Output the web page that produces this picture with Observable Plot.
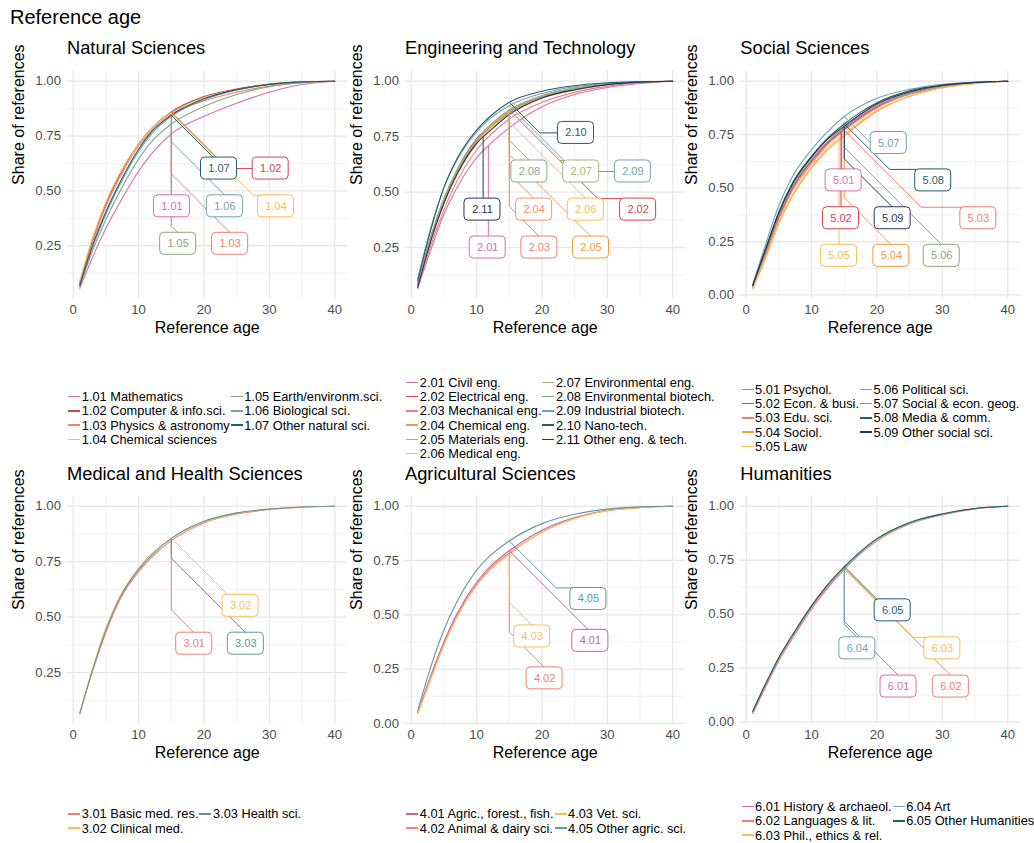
<!DOCTYPE html>
<html><head><meta charset="utf-8">
<script src="https://cdn.jsdelivr.net/npm/d3@7"></script>
<script src="https://cdn.jsdelivr.net/npm/@observablehq/plot@0.6"></script>
<style>
body{margin:0;background:#fff;font-family:"Liberation Sans",Arial,Helvetica,sans-serif;}
#root{position:relative;width:1034px;height:843px;overflow:hidden;background:#fff;}
.title{position:absolute;left:10px;top:6px;font-size:20px;color:#000;white-space:nowrap;}
.ptitle{position:absolute;font-size:18.3px;color:#000;white-space:nowrap;line-height:20px;}
.panel{position:absolute;}
.legend{position:absolute;display:grid;grid-auto-flow:column;grid-auto-columns:max-content;column-gap:1px;font-size:12.8px;color:#000;}
.item{white-space:nowrap;display:flex;align-items:center;height:14.2px;}
.sw{display:inline-block;width:12px;height:1.4px;margin-right:1.5px;}
</style></head><body><div id="root"></div>
<script>
const ages = [1,3,5,7,10,12,15,20,25,30,35,40];

// ---- Natural Sciences ----
const natTitle = "Natural Sciences";
const natCodes = ["1.01","1.02","1.03","1.04","1.05","1.06","1.07"];
const natNames = ["Mathematics","Computer & info.sci.","Physics & astronomy","Chemical sciences","Earth/environm.sci.","Biological sci.","Other natural sci."];
const natColors = ["#D36FB2","#D6424F","#EE7F75","#F9BE52","#8DA577","#6FA3AB","#1F5E6C"];
const natValues = [
  [0.055,0.20,0.33,0.44,0.59,0.67,0.76,0.84,0.90,0.95,0.985,1],
  [0.08,0.28,0.44,0.565,0.715,0.785,0.86,0.93,0.965,0.987,0.997,1],
  [0.075,0.27,0.43,0.555,0.705,0.775,0.85,0.91,0.95,0.978,0.994,1],
  [0.09,0.29,0.45,0.575,0.715,0.785,0.855,0.925,0.96,0.985,0.996,1],
  [0.065,0.23,0.37,0.49,0.645,0.725,0.805,0.885,0.94,0.975,0.993,1],
  [0.065,0.245,0.395,0.52,0.68,0.76,0.84,0.915,0.96,0.985,0.997,1],
  [0.07,0.255,0.405,0.53,0.69,0.77,0.845,0.92,0.962,0.986,0.997,1]
];
const natLabelX = [15.1,30.2,24.0,31.0,16.05,23.2,22.3];
const natLabelY = [0.43,0.602,0.259,0.43,0.259,0.43,0.602];
const natAnchor = [15,15,15,15,15,15,15];

// ---- Engineering and Technology ----
const engTitle = "Engineering and Technology";
const engCodes = ["2.01","2.02","2.03","2.04","2.05","2.06","2.07","2.08","2.09","2.10","2.11"];
const engNames = ["Civil eng.","Electrical eng.","Mechanical eng.","Chemical eng.","Materials eng.","Medical eng.","Environmental eng.","Environmental biotech.","Industrial biotech.","Nano-tech.","Other eng. & tech."];
const engColors = ["#D36FB2","#D6424F","#EE7F75","#F2936A","#F59A3E","#F9BE52","#A9B27A","#8AAB92","#6FA3AB","#1F5E6C","#27355F"];
const engValues = [
  [0.065,0.24,0.40,0.52,0.655,0.715,0.79,0.885,0.94,0.972,0.99,1],
  [0.085,0.30,0.47,0.60,0.74,0.80,0.87,0.935,0.967,0.987,0.997,1],
  [0.07,0.26,0.42,0.55,0.69,0.755,0.83,0.905,0.95,0.978,0.994,1],
  [0.075,0.28,0.45,0.58,0.72,0.785,0.855,0.925,0.96,0.985,0.996,1],
  [0.08,0.29,0.46,0.59,0.73,0.795,0.865,0.93,0.965,0.986,0.996,1],
  [0.075,0.28,0.45,0.58,0.72,0.785,0.86,0.93,0.965,0.986,0.996,1],
  [0.08,0.29,0.47,0.60,0.735,0.80,0.87,0.935,0.97,0.988,0.997,1],
  [0.08,0.29,0.46,0.59,0.73,0.79,0.86,0.93,0.965,0.987,0.997,1],
  [0.11,0.34,0.52,0.645,0.77,0.83,0.89,0.945,0.975,0.99,0.997,1],
  [0.10,0.33,0.52,0.65,0.78,0.84,0.905,0.955,0.98,0.993,0.998,1],
  [0.07,0.28,0.45,0.58,0.72,0.775,0.85,0.925,0.962,0.985,0.996,1]
];
const engLabelX = [11.7,34.7,19.6,18.8,27.5,26.7,26.0,18.07,33.9,25.2,10.9];
const engLabelY = [0.25,0.421,0.25,0.421,0.25,0.421,0.593,0.593,0.593,0.767,0.421];
const engAnchor = [11.8,15,15,15,15,15,15,15,15,15,11];

// ---- Social Sciences ----
const socTitle = "Social Sciences";
const socCodes = ["5.01","5.02","5.03","5.04","5.05","5.06","5.07","5.08","5.09"];
const socNames = ["Psychol.","Econ. & busi.","Edu. sci.","Sociol.","Law","Political sci.","Social & econ. geog.","Media & comm.","Other social sci."];
const socColors = ["#D36FB2","#D6424F","#EE7F75","#F59A3E","#F9BE52","#8DA577","#6FA3AB","#1F5E6C","#27355F"];
const socValues = [
  [0.04,0.205,0.37,0.50,0.63,0.70,0.78,0.885,0.945,0.977,0.993,1],
  [0.04,0.20,0.365,0.495,0.625,0.695,0.775,0.88,0.94,0.975,0.992,1],
  [0.035,0.19,0.355,0.485,0.615,0.69,0.77,0.875,0.94,0.975,0.992,1],
  [0.03,0.175,0.335,0.46,0.595,0.665,0.745,0.86,0.93,0.97,0.99,1],
  [0.035,0.18,0.34,0.465,0.60,0.675,0.755,0.865,0.93,0.97,0.99,1],
  [0.04,0.21,0.375,0.505,0.635,0.705,0.785,0.89,0.945,0.978,0.993,1],
  [0.05,0.24,0.42,0.55,0.68,0.75,0.835,0.92,0.962,0.986,0.996,1],
  [0.045,0.22,0.39,0.52,0.65,0.72,0.80,0.90,0.955,0.982,0.995,1],
  [0.045,0.215,0.385,0.515,0.645,0.715,0.79,0.895,0.95,0.98,0.994,1]
];
const socLabelX = [14.9,14.5,35.5,22.2,14.2,29.9,21.8,28.6,22.4];
const socLabelY = [0.536,0.359,0.359,0.183,0.183,0.183,0.711,0.536,0.359];
const socAnchor = [14.6,14.5,15,15,14.2,15,15,15,15];

// ---- Medical and Health Sciences ----
const medTitle = "Medical and Health Sciences";
const medCodes = ["3.01","3.02","3.03"];
const medNames = ["Basic med. res.","Clinical med.","Health sci."];
const medColors = ["#EE7F75","#F9BE52","#5E9A93"];
const medValues = [
  [0.065,0.26,0.43,0.57,0.705,0.77,0.845,0.925,0.965,0.985,0.996,1],
  [0.065,0.27,0.45,0.585,0.72,0.785,0.855,0.93,0.968,0.987,0.997,1],
  [0.065,0.265,0.44,0.58,0.715,0.78,0.855,0.932,0.97,0.988,0.997,1]
];
const medLabelX = [18.5,25.6,26.4];
const medLabelY = [0.38,0.551,0.38];
const medAnchor = [15,15,15];

// ---- Agricultural Sciences ----
const agrTitle = "Agricultural Sciences";
const agrCodes = ["4.01","4.02","4.03","4.05"];
const agrNames = ["Agric., forest., fish.","Animal & dairy sci.","Vet. sci.","Other agric. sci."];
const agrColors = ["#C95FA6","#EE7F75","#F9BE52","#5E9AA3"];
const agrValues = [
  [0.05,0.22,0.375,0.505,0.65,0.72,0.795,0.89,0.948,0.982,0.995,1],
  [0.045,0.21,0.365,0.495,0.64,0.71,0.785,0.882,0.945,0.98,0.994,1],
  [0.045,0.205,0.36,0.49,0.635,0.705,0.78,0.88,0.944,0.98,0.994,1],
  [0.06,0.26,0.43,0.56,0.705,0.77,0.84,0.92,0.963,0.987,0.997,1]
];
const agrLabelX = [27.4,20.4,18.5,27.1];
const agrLabelY = [0.38,0.207,0.40,0.573];
const agrAnchor = [15,15,15,15];

// ---- Humanities ----
const humTitle = "Humanities";
const humCodes = ["6.01","6.02","6.03","6.04","6.05"];
const humNames = ["History & archaeol.","Languages & lit.","Phil., ethics & rel.","Art","Other Humanities"];
const humColors = ["#D36FB2","#EE7F75","#F9BE52","#6FA3AB","#1F5E6C"];
const humValues = [
  [0.04,0.165,0.285,0.385,0.525,0.605,0.708,0.84,0.918,0.96,0.988,1],
  [0.04,0.17,0.29,0.39,0.53,0.61,0.71,0.843,0.92,0.962,0.989,1],
  [0.045,0.175,0.295,0.395,0.535,0.615,0.712,0.845,0.92,0.962,0.989,1],
  [0.05,0.18,0.30,0.40,0.538,0.618,0.715,0.848,0.922,0.963,0.99,1],
  [0.05,0.18,0.30,0.40,0.54,0.62,0.72,0.85,0.925,0.965,0.99,1]
];
const humLabelX = [23.3,31.3,30.0,17.0,22.4];
const humLabelY = [0.165,0.165,0.342,0.342,0.518];
const humAnchor = [15,15,15,15,15];

const panels = [
  {title:natTitle,codes:natCodes,names:natNames,colors:natColors,values:natValues,lx:natLabelX,ly:natLabelY,anchor:natAnchor,col:0,row:0},
  {title:engTitle,codes:engCodes,names:engNames,colors:engColors,values:engValues,lx:engLabelX,ly:engLabelY,anchor:engAnchor,col:1,row:0},
  {title:socTitle,codes:socCodes,names:socNames,colors:socColors,values:socValues,lx:socLabelX,ly:socLabelY,anchor:socAnchor,col:2,row:0},
  {title:medTitle,codes:medCodes,names:medNames,colors:medColors,values:medValues,lx:medLabelX,ly:medLabelY,anchor:medAnchor,col:0,row:1},
  {title:agrTitle,codes:agrCodes,names:agrNames,colors:agrColors,values:agrValues,lx:agrLabelX,ly:agrLabelY,anchor:agrAnchor,col:1,row:1},
  {title:humTitle,codes:humCodes,names:humNames,colors:humColors,values:humValues,lx:humLabelX,ly:humLabelY,anchor:humAnchor,col:2,row:1}
];

const root = document.getElementById("root");
const t = document.createElement("div"); t.className="title"; t.textContent="Reference age"; root.appendChild(t);

const colX = [0,338,673.3];
const W = 350, mL = 66.5, mR = 3, mT = 10.4, mB = 48.6, H = 287;
const plotTop = [70.4, 495.6];
const legendCenter = [418, 821];
const HW = 18, HH = 11;

function interp(xs, ys, x){
  for(let i=0;i<xs.length-1;i++){
    if(x>=xs[i] && x<=xs[i+1]){const f=(x-xs[i])/(xs[i+1]-xs[i]);return ys[i]+f*(ys[i+1]-ys[i]);}
  }
  return ys[ys.length-1];
}

for(const p of panels){
  const all = p.values.flat();
  const lo = d3.min(all), hi = d3.max(all);
  const ext = (hi-lo)*0.05;
  const ydom = [lo-ext, hi+ext];
  const xdom = [1-39*0.05, 40+39*0.05];
  const kx = (W-mL-mR)/(xdom[1]-xdom[0]);
  const ky = (H-mT-mB)/(ydom[1]-ydom[0]);

  const lines = [];
  p.codes.forEach((c,i)=>ages.forEach((a,j)=>lines.push({code:c,age:a,share:p.values[i][j],color:p.colors[i]})));

  const labels = p.codes.map((c,i)=>({code:c,lx:p.lx[i],ly:p.ly[i],color:p.colors[i],
    x1:p.lx[i]-HW/kx,x2:p.lx[i]+HW/kx,y1:p.ly[i]-HH/ky,y2:p.ly[i]+HH/ky}));

  const leaders = [];
  p.codes.forEach((c,i)=>{
    const ax=p.anchor[i], ay=interp(ages,p.values[i],ax);
    const px0=ax*kx, py0=ay*ky, cx=p.lx[i]*kx, cy=p.ly[i]*ky;
    const dx=cx-px0, dy=cy-py0;
    let ex,ey;
    if(Math.abs(dx)*HH > Math.abs(dy)*HW){ex=cx-Math.sign(dx)*HW;ey=cy;}
    else {ex=cx;ey=cy-Math.sign(dy)*HH;}
    const ux=ex-px0, uy=ey-py0;
    let mx,my;
    if(Math.abs(uy)>Math.abs(ux)){mx=px0;my=py0+Math.sign(uy)*(Math.abs(uy)-Math.abs(ux));}
    else {mx=px0+Math.sign(ux)*Math.abs(uy);my=ey;}
    [[ax,ay],[mx/kx,my/ky],[ex/kx,ey/ky]].forEach((q,k)=>leaders.push({code:c,x:q[0],y:q[1],k,color:p.colors[i]}));
  });

  const majorX=[0,10,20,30,40], minorX=[5,15,25,35];
  const majorY=[0,0.25,0.5,0.75,1].filter(v=>v>=ydom[0]&&v<=ydom[1]);
  const minorY=[0.125,0.375,0.625,0.875].filter(v=>v>=ydom[0]&&v<=ydom[1]);

  const chart = Plot.plot({
    width:W, height:H, marginLeft:mL, marginRight:mR, marginTop:mT, marginBottom:mB,
    x:{domain:xdom}, y:{domain:ydom},
    color:{type:"identity"},
    style:{fontFamily:'"Liberation Sans",Arial,Helvetica,sans-serif',background:"transparent",overflow:"visible"},
    marks:[
      Plot.ruleX(minorX,{stroke:"#F0F0F0",strokeWidth:0.9}),
      Plot.ruleY(minorY,{stroke:"#F0F0F0",strokeWidth:0.9}),
      Plot.ruleX(majorX,{stroke:"#E8E8E8",strokeWidth:1.3}),
      Plot.ruleY(majorY,{stroke:"#E8E8E8",strokeWidth:1.3}),
      Plot.axisX({ticks:majorX,tickSize:0,tickPadding:6,fontSize:13.2,color:"#4D4D4D",label:null}),
      Plot.axisY({ticks:majorY,tickSize:0,tickPadding:6,fontSize:13.2,color:"#4D4D4D",tickFormat:d3.format(".2f"),label:null}),
      Plot.text(["Share of references"],{frameAnchor:"left",rotate:-90,dx:-48,fontSize:16,fill:"#000"}),
      Plot.text(["Reference age"],{frameAnchor:"bottom",dy:34,fontSize:16,fill:"#000"}),
      Plot.line(lines,{x:"age",y:"share",z:"code",stroke:"color",strokeWidth:1.1,curve:"monotone-x"}),
      Plot.line(leaders,{x:"x",y:"y",z:"code",stroke:"color",strokeWidth:1}),
      Plot.rect(labels,{x1:"x1",x2:"x2",y1:"y1",y2:"y2",fill:"white",stroke:"color",strokeWidth:1,rx:4}),
      Plot.text(labels,{x:"lx",y:"ly",text:"code",fill:"color",fontSize:11})
    ]
  });
  const div=document.createElement("div"); div.className="panel";
  div.style.left=colX[p.col]+"px"; div.style.top=(plotTop[p.row]-mT)+"px";
  div.appendChild(chart); root.appendChild(div);

  const pt=document.createElement("div"); pt.className="ptitle"; pt.textContent=p.title;
  pt.style.left=(colX[p.col]+mL+0.5)+"px"; pt.style.top=(plotTop[p.row]-32)+"px"; root.appendChild(pt);

  const n=p.codes.length, rows=Math.ceil(n/2);
  const lg=document.createElement("div"); lg.className="legend";
  lg.style.gridTemplateRows=`repeat(${rows},14.2px)`;
  lg.style.left=(colX[p.col]+mL+1.8)+"px";
  lg.style.top=(legendCenter[p.row]-rows*14.2/2)+"px";
  p.codes.forEach((c,i)=>{
    const it=document.createElement("div"); it.className="item";
    const sw=document.createElement("span"); sw.className="sw"; sw.style.background=p.colors[i];
    it.appendChild(sw); it.appendChild(document.createTextNode(c+" "+p.names[i]));
    lg.appendChild(it);
  });
  root.appendChild(lg);
}
</script></body></html>
